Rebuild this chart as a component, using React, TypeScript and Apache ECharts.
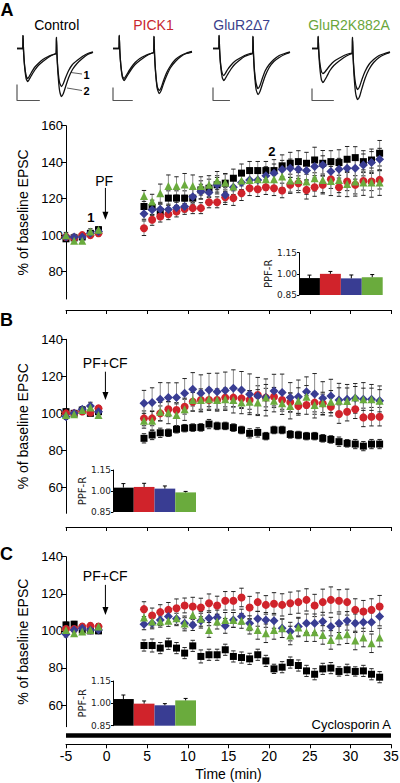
import React, { useEffect, useRef } from 'react';
import * as echarts from 'echarts';

// ---------------- DATA ----------------
const GROUPS = ['Control', 'PICK1', 'GluR2Δ7', 'GluR2K882A'];
const COLORS = ['#000000', '#d0232b', '#393d93', '#6aab3d'];
const TITLE_COLORS = ['#000000', '#c8262e', '#3b3f8c', '#6aa63a'];
const SYMBOLS = ['rect', 'circle', 'diamond', 'triangle'];
const SYMBOL_SIZES = [7, 8, 9, 8];

const TIME = [-5, -4, -3, -2, -1,
  4.6, 5.6, 6.6, 7.6, 8.6, 9.6, 10.6, 11.6, 12.6, 13.6,
  14.6, 15.6, 16.6, 17.6, 18.6, 19.6, 20.6, 21.6, 22.6, 23.6,
  24.6, 25.6, 26.6, 27.6, 28.6, 29.6, 30.6, 31.6, 32.6, 33.6];

const Y_TICKS_A = [80, 100, 120, 140, 160];
const Y_TICKS_BC = [60, 80, 100, 120, 140];
const PPF_TICKS = [0.85, 1.0, 1.15];

// Panel A (PF)
const A_CONTROL = [98, 98.5, 99, 101, 103, 115.7, 115.2, 113, 120.3, 120.3, 120.3, 120.3, 124.8, 125.7, 127.6, 128.5, 131.2, 134, 135.4, 135.4, 135.4, 135.4, 138, 139.4, 140.3, 139.4, 141.2, 139.4, 140.3, 139.8, 141.6, 142.5, 140.3, 141.2, 144.9];
const A_PICK1 = [99, 98.5, 100, 100, 101, 103.8, 108.4, 110.2, 111.5, 113, 114.4, 114.8, 114.8, 118, 118, 120.8, 120.3, 123, 125.7, 125.2, 126.3, 125.7, 124.5, 127.6, 128.5, 124.8, 126.3, 127.6, 130.6, 126.3, 129.4, 127.6, 129.7, 129.4, 130.3];
const A_DELTA7 = [99, 99, 99, 101, 102, 111.7, 113.9, 114.2, 114, 115, 115.7, 121, 123.9, 123.4, 127.6, 122, 126.3, 128.8, 130.3, 130.3, 132.5, 134, 136, 136.7, 136.1, 135.4, 137.6, 138.5, 134.9, 136.1, 136.7, 136.7, 138.5, 139.8, 141.6];
const A_K882A = [100, 97, 97, 102, 103, 121.5, 118.4, 123, 127, 127, 127.8, 127, 127, 127.6, 129.9, 128.8, 126.7, 129.9, 130.3, 130.6, 130.6, 130.6, 132.1, 129.9, 130.3, 129.4, 131.2, 130.3, 129.7, 130.3, 128.1, 129.4, 128.8, 128.8, 128.8];
const A_CONTROL_ERR = [1.5, 1.5, 1.5, 1.5, 1.5, 4, 4, 4, 4, 4, 4, 5, 5, 5, 5, 5, 5, 5, 5, 5, 5, 6, 6, 6, 6, 6, 7, 7, 6, 7, 7, 6, 6, 6, 7];
const A_PICK1_ERR = [1.5, 1.5, 1.5, 1.5, 1.5, 4, 3, 3, 3, 3, 3, 3, 3, 3, 3, 4, 4, 4, 4, 4, 4, 4, 4, 4, 4, 5, 5, 5, 5, 5, 5, 5, 5, 5, 5];
const A_DELTA7_ERR = [1.5, 1.5, 1.5, 1.5, 1.5, 3, 3, 3, 3, 3, 3, 4, 4, 4, 4, 4, 4, 4, 4, 5, 5, 5, 5, 5, 5, 5, 5, 5, 5, 6, 6, 6, 6, 6, 6];
const A_K882A_ERR = [1.5, 1.5, 1.5, 1.5, 1.5, 3, 4, 5, 6, 5, 6, 6, 5, 5, 5, 5, 6, 5, 5, 5, 6, 6, 6, 7, 7, 7, 7, 7, 8, 7, 7, 8, 7, 8, 7];

// Panel B (PF+CF)
const B_CONTROL = [100.9, 100, 101.8, 100, 100.9, 86.5, 88.3, 89.5, 89.5, 91.4, 92.0, 92.3, 92.4, 94.2, 93.2, 93.2, 92.3, 91.0, 89.2, 89.7, 87.7, 91.0, 91.0, 88.6, 88.3, 87.7, 87.7, 86.5, 85.9, 84.7, 83.8, 83.4, 82.3, 83.4, 83.4];
const B_PICK1 = [100, 100, 101, 100.5, 102.7, 97.3, 97.3, 100, 102.2, 101.8, 103.6, 106.3, 107.2, 107.2, 107.2, 108.5, 108.5, 108.1, 107.2, 109.9, 108.5, 109, 107.2, 106, 104, 104.5, 105.8, 105.4, 103.6, 99.6, 100.9, 102.2, 97.8, 98.2, 98.2];
const B_DELTA7 = [98.2, 100, 102.2, 104, 100.9, 105.4, 105.8, 107.6, 108.5, 108.5, 110.8, 113, 110.8, 112.6, 111.7, 112.3, 113.5, 112.6, 110.3, 109.4, 108.6, 112.1, 111.2, 108.6, 109, 111.7, 110.5, 108.1, 109.4, 107.2, 107.6, 108.1, 107.6, 107.6, 106.8];
const B_K882A = [99.1, 99.5, 101.8, 103.2, 99.1, 96, 96, 100.9, 100.4, 99.1, 102.2, 107.2, 107.2, 107.6, 107.2, 107.6, 107.2, 105.8, 106.3, 105.8, 108.6, 106.8, 105.4, 104, 106.8, 109, 104.5, 105.4, 106.3, 106.8, 106.7, 108.5, 107.6, 107.6, 106.8];
const B_CONTROL_ERR = [1.5, 1, 1.5, 1, 1.5, 2.5, 2.5, 2.5, 2, 2, 2, 2, 2, 2.5, 2, 2, 2, 2, 2.5, 2.5, 2, 2, 2, 2, 2, 2, 2, 2, 2, 2.5, 2, 2.5, 2.5, 2.5, 2.5];
const B_PICK1_ERR = [1.5, 1.5, 1.5, 1.5, 1.5, 4, 4, 4, 4, 4, 4, 5, 5, 5, 5, 5, 5, 5, 5, 5, 5, 5, 5, 5, 5, 5, 5, 5, 5, 5, 5, 5, 5, 5, 5];
const B_DELTA7_ERR = [1.5, 1.5, 1.5, 2, 1.5, 7, 8, 9, 8, 8, 8, 9, 10, 9, 10, 10, 10, 10, 11, 10, 10, 9, 10, 8, 9, 8, 11, 9, 9, 9, 8, 8, 9, 8, 8];
const B_K882A_ERR = [1.5, 1.5, 1.5, 1.5, 1.5, 4, 5, 5, 6, 6, 6, 6, 6, 6, 6, 6, 7, 6, 6, 7, 7, 6, 6, 7, 7, 6, 7, 6, 6, 7, 7, 6, 6, 6, 6];

// Panel C (PF+CF, Cyclosporin A)
const C_CONTROL = [103.2, 103.6, 100.5, 100, 100, 92.1, 92.1, 90.7, 93, 90.7, 88, 91.9, 86.2, 87.1, 87.1, 89.8, 86.2, 85.6, 84.9, 87.1, 83.8, 79.5, 80.4, 82.9, 81.3, 78.4, 76.6, 79.5, 79.9, 78.1, 79, 78.1, 78.4, 76.6, 75];
const C_PICK1 = [101, 101, 102.3, 102.7, 102.3, 111.7, 108.3, 110.1, 111.3, 112.2, 113.7, 113.1, 112.6, 114.9, 113.7, 116.2, 116.2, 118, 112.6, 115.5, 114, 114.6, 114, 114.9, 115.5, 116.7, 113.7, 115.5, 116.7, 116.2, 115.5, 111.3, 110.4, 111.3, 113.1];
const C_DELTA7 = [98.2, 100.5, 101.4, 100.5, 100.5, 103.6, 104.1, 105.9, 107.7, 106.5, 104.1, 103.2, 105.5, 106.8, 107.2, 102.7, 105.9, 107.7, 104.1, 106.5, 105.9, 105.4, 101.4, 99.6, 102.3, 104.1, 104.1, 105, 102.3, 104.1, 105.4, 104.1, 104.7, 104.7, 107.7];
const C_K882A = [100.5, 98.7, 99.6, 100.5, 102.3, 107.2, 105, 105, 105.4, 106.8, 104, 108.6, 106.5, 100.5, 105, 105.9, 105.9, 105.4, 102.3, 100.5, 98.7, 100.5, 101.4, 97.5, 101.8, 99.3, 99.3, 97.8, 95.1, 97.5, 98.2, 94.8, 96.4, 93.3, 96.4];
const C_CONTROL_ERR = [1.5, 1.5, 1.5, 1.5, 1.5, 3, 3.5, 3, 3, 3, 3, 3, 3.5, 3, 3, 3, 3, 3, 3, 3, 3, 2.5, 3, 3, 3, 3, 3, 3, 3, 2.5, 3, 2.5, 3, 3, 3];
const C_PICK1_ERR = [1.5, 1.5, 1.5, 1.5, 1.5, 4, 4, 4, 4, 5, 4, 5, 5, 5, 5, 5, 5, 5, 6, 5, 5, 6, 6, 6, 6, 6, 6, 7, 7, 6, 7, 6, 6, 6, 6];
const C_DELTA7_ERR = [1.5, 1.5, 1.5, 1.5, 1.5, 3, 3, 3, 3, 3, 3, 3, 4, 4, 4, 4, 4, 4, 4, 4, 4, 4, 5, 5, 5, 5, 5, 5, 5, 5, 5, 5, 5, 5, 5];
const C_K882A_ERR = [1.5, 1.5, 1.5, 1.5, 1.5, 3, 3, 3, 3, 4, 4, 4, 4, 4, 4, 4, 4, 4, 4, 5, 5, 5, 5, 5, 5, 5, 5, 5, 5, 5, 5, 5, 5, 5, 5];

// PPF-R insets
const PPF_A = [0.97, 1.0, 0.968, 0.976];
const PPF_A_ERR = [0.021, 0.017, 0.024, 0.019];
const PPF_B = [1.024, 1.029, 1.017, 0.99];
const PPF_B_ERR = [0.029, 0.026, 0.019, 0.007];
const PPF_C = [1.029, 0.998, 0.987, 1.02];
const PPF_C_ERR = [0.027, 0.018, 0.011, 0.013];

// Arrow annotations: [time, start value, tip value]
const ARROW_A = [-0.15, 125.9, 108.4];
const ARROW_B = [-0.15, 122.5, 107.2];
const ARROW_C = [-0.15, 124.8, 108.6];

// EPSC example traces (time in % of sweep, amplitude in arbitrary units)
const TRACE_T = [0, 7.5, 7.9, 8.6, 10, 12, 14, 16, 19, 23, 28, 34, 41, 48, 51.5, 51.9, 52.6, 54, 56, 58.5, 61, 64, 68, 73, 79, 86, 93, 100];
const CONTROL_1 = [0, 0, 13, -2, -17, -27, -30, -28, -24, -19, -15, -11, -8, -6, -5, 11, -6, -22, -34, -38, -35, -29, -22, -16, -12, -8, -5, -3.5];
const CONTROL_2 = [0, 0, 13, -2, -18, -30, -33, -31, -27, -22, -17, -13, -9, -6, -5, 11, -6, -26, -42, -48, -45, -38, -29, -21, -15, -10, -6, -4];
const PICK1_1 = [0, 0, 13, -2, -17, -28, -30, -28, -24, -19, -14, -10, -7, -5, -4, 12, -6, -24, -38, -42, -39, -32, -24, -17, -11, -7, -4.5, -3];
const PICK1_2 = [0, 0, 13, -2, -18, -29, -32, -30, -26, -21, -16, -12, -8, -5, -4, 12, -6, -25, -40, -45, -42, -35, -27, -19, -13, -8, -5, -3.5];
const DELTA7_1 = [0, 0, 13, -2, -16, -25, -27, -25, -21, -17, -13, -10, -7, -5, -4.5, 12, -6, -23, -35, -40, -37, -30, -22, -16, -11, -7, -5, -3.5];
const DELTA7_2 = [0, 0, 13, -2, -18, -29, -32, -30, -26, -21, -16, -12, -8, -6, -5, 12, -6, -26, -41, -46, -43, -36, -27, -19, -13, -9, -6, -4];
const K882A_1 = [0, 0, 12, -2, -14, -23, -25, -24, -21, -17, -13, -10, -7, -5, -4.5, 11, -6, -23, -36, -41, -38, -31, -23, -16, -11, -7, -5, -3.5];
const K882A_2 = [0, 0, 12, -2, -19, -31, -34, -32, -28, -22, -17, -13, -9, -6, -5, 11, -6, -28, -45, -51, -48, -40, -30, -21, -14, -9, -6, -4];
const SCALE_H = [16, 13, 13, 12];
const SCALE_W = [30, 25, 22, 28];
const SCALE_BASE = -52;

// ---------------- LAYOUT ----------------
const FONT = "'Liberation Sans', Arial, Helvetica, sans-serif";
const INSET_FONT = "'DejaVu Sans', Verdana, sans-serif";

const MAIN = [
  { top: 125.7, height: 173.3, ymin: 65, ymax: 160, ticks: Y_TICKS_A, xOffset: 11, labels: false },
  { top: 339.3, height: 174, ymin: 46, ymax: 140, ticks: Y_TICKS_BC, xOffset: 13.7, labels: false },
  { top: 556.7, height: 170, ymin: 48.3, ymax: 140, ticks: Y_TICKS_BC, xOffset: 17.6, labels: true },
];
const INSETS = [
  { left: 299, top: 252.7, width: 83.7, height: 42.3 },
  { left: 113, top: 470, width: 83, height: 42 },
  { left: 113, top: 681, width: 83, height: 44.7 },
];
const TRACE_GRIDS = [
  { left: 17, width: 76 },
  { left: 113, width: 79 },
  { left: 213, width: 77 },
  { left: 312, width: 78 },
];

const PANEL_VALUES = [
  [A_CONTROL, A_PICK1, A_DELTA7, A_K882A],
  [B_CONTROL, B_PICK1, B_DELTA7, B_K882A],
  [C_CONTROL, C_PICK1, C_DELTA7, C_K882A],
];
const PANEL_ERRS = [
  [A_CONTROL_ERR, A_PICK1_ERR, A_DELTA7_ERR, A_K882A_ERR],
  [B_CONTROL_ERR, B_PICK1_ERR, B_DELTA7_ERR, B_K882A_ERR],
  [C_CONTROL_ERR, C_PICK1_ERR, C_DELTA7_ERR, C_K882A_ERR],
];
const PANEL_ARROWS = [ARROW_A, ARROW_B, ARROW_C];
const PPF = [PPF_A, PPF_B, PPF_C];
const PPF_ERR = [PPF_A_ERR, PPF_B_ERR, PPF_C_ERR];
const TRACES = [
  [CONTROL_1, CONTROL_2],
  [PICK1_1, PICK1_2],
  [DELTA7_1, DELTA7_2],
  [K882A_1, K882A_2],
];

function buildOption() {
  const grid: any[] = [];
  const xAxis: any[] = [];
  const yAxis: any[] = [];
  const series: any[] = [];

  // main panels
  MAIN.forEach((m, p) => {
    grid.push({ left: 66, right: 9, top: m.top, height: m.height, containLabel: false, outerBoundsMode: 'none' });
    xAxis.push({
      gridIndex: p, type: 'value', min: -5, max: 35, interval: 5, position: 'bottom', offset: m.xOffset,
      axisLine: { show: true, onZero: false, lineStyle: { color: '#000', width: 1 } },
      axisTick: { show: true, length: 4, lineStyle: { color: '#000', width: 1 } },
      axisLabel: { show: m.labels, fontSize: 14, color: '#000', margin: 5, fontFamily: FONT },
      splitLine: { show: false },
      name: m.labels ? 'Time (min)' : '', nameLocation: 'middle', nameGap: 23,
      nameTextStyle: { fontSize: 14, color: '#000', fontFamily: FONT },
    });
    yAxis.push({
      gridIndex: p, type: 'value', min: m.ymin, max: m.ymax, position: 'left',
      axisLine: { show: true, onZero: false, lineStyle: { color: '#000', width: 1 } },
      axisTick: { show: true, length: 5, customValues: m.ticks, lineStyle: { color: '#000' } },
      axisLabel: { show: true, customValues: m.ticks, fontSize: 13, color: '#000', margin: 3, fontFamily: FONT },
      splitLine: { show: false },
      name: '% of baseline EPSC', nameLocation: 'middle', nameGap: 33, nameRotate: 90,
      nameTextStyle: { fontSize: 14, color: '#000', fontFamily: FONT },
    });
  });

  // insets
  INSETS.forEach((g, i) => {
    grid.push({ left: g.left, top: g.top, width: g.width, height: g.height, containLabel: false, outerBoundsMode: 'none' });
    xAxis.push({ gridIndex: 3 + i, type: 'category', data: GROUPS, show: false, boundaryGap: true });
    yAxis.push({
      gridIndex: 3 + i, type: 'value', min: 0.85, max: 1.15, position: 'left',
      axisLine: { show: true, onZero: false, lineStyle: { color: '#000', width: 1 } },
      axisTick: { show: true, length: 2, customValues: PPF_TICKS, lineStyle: { color: '#000' } },
      axisLabel: {
        show: true, customValues: PPF_TICKS, fontSize: 9, color: '#222', margin: 2, fontFamily: INSET_FONT,
        formatter: (v: number) => v.toFixed(2),
      },
      splitLine: { show: false },
      name: 'PPF-R', nameLocation: 'middle', nameGap: 26, nameRotate: 90,
      nameTextStyle: { fontSize: 10, color: '#222', fontFamily: INSET_FONT },
    });
  });

  // trace grids
  TRACE_GRIDS.forEach((g, i) => {
    grid.push({ left: g.left, width: g.width, top: 33.5, height: 70, containLabel: false, outerBoundsMode: 'none' });
    xAxis.push({ gridIndex: 6 + i, type: 'value', min: 0, max: 100, show: false });
    yAxis.push({ gridIndex: 6 + i, type: 'value', min: -55, max: 15, show: false });
  });

  // main panel series
  PANEL_VALUES.forEach((groupVals, p) => {
    groupVals.forEach((vals, g) => {
      const errs = PANEL_ERRS[p][g];
      series.push({
        type: 'custom', coordinateSystem: 'cartesian2d', xAxisIndex: p, yAxisIndex: p, z: 2,
        silent: true, clip: false,
        encode: { x: 0, y: [1, 2] },
        data: TIME.map((t, i) => [t, vals[i] - errs[i], vals[i] + errs[i]]),
        renderItem: (params: any, api: any) => {
          const x = api.value(0);
          const lo = api.coord([x, api.value(1)]);
          const hi = api.coord([x, api.value(2)]);
          const w = 2.2;
          return {
            type: 'group',
            children: [
              { type: 'line', shape: { x1: lo[0], y1: lo[1], x2: hi[0], y2: hi[1] }, style: { stroke: '#8c8c8c', lineWidth: 1 } },
              { type: 'line', shape: { x1: lo[0] - w, y1: lo[1], x2: lo[0] + w, y2: lo[1] }, style: { stroke: '#222', lineWidth: 1 } },
              { type: 'line', shape: { x1: hi[0] - w, y1: hi[1], x2: hi[0] + w, y2: hi[1] }, style: { stroke: '#222', lineWidth: 1 } },
            ],
          };
        },
      });
    });
    groupVals.forEach((vals, g) => {
      series.push({
        type: 'scatter', xAxisIndex: p, yAxisIndex: p, z: 3 + g, clip: false, silent: true,
        symbol: SYMBOLS[g], symbolSize: SYMBOL_SIZES[g],
        itemStyle: { color: COLORS[g], opacity: 1 },
        data: TIME.map((t, i) => [t, vals[i]]),
      });
    });
    // stimulation arrow
    const a = PANEL_ARROWS[p];
    series.push({
      type: 'custom', coordinateSystem: 'cartesian2d', xAxisIndex: p, yAxisIndex: p, z: 10, silent: true, clip: false,
      encode: { x: 0, y: [1, 2] },
      data: [a],
      renderItem: (params: any, api: any) => {
        const x = api.value(0);
        const s = api.coord([x, api.value(1)]);
        const e = api.coord([x, api.value(2)]);
        const hl = 8, hw = 3;
        return {
          type: 'group',
          children: [
            { type: 'line', shape: { x1: s[0], y1: s[1], x2: e[0], y2: e[1] - hl + 1 }, style: { stroke: '#000', lineWidth: 1 } },
            { type: 'polygon', shape: { points: [[e[0], e[1]], [e[0] - hw, e[1] - hl], [e[0] + hw, e[1] - hl]] }, style: { fill: '#000' } },
          ],
        };
      },
    });
  });

  // inset series
  PPF.forEach((vals, i) => {
    series.push({
      type: 'bar', xAxisIndex: 3 + i, yAxisIndex: 3 + i, barCategoryGap: '0%', silent: true, z: 5,
      data: vals.map((v, g) => ({ value: v, itemStyle: { color: COLORS[g] } })),
    });
    series.push({
      type: 'custom', coordinateSystem: 'cartesian2d', xAxisIndex: 3 + i, yAxisIndex: 3 + i, z: 6, silent: true,
      encode: { x: 0, y: [1, 2] },
      data: vals.map((v, g) => [g, v, v + PPF_ERR[i][g]]),
      renderItem: (params: any, api: any) => {
        const x = api.value(0);
        const lo = api.coord([x, api.value(1)]);
        const hi = api.coord([x, api.value(2)]);
        const w = 2;
        return {
          type: 'group',
          children: [
            { type: 'line', shape: { x1: lo[0], y1: lo[1], x2: hi[0], y2: hi[1] }, style: { stroke: '#000', lineWidth: 1 } },
            { type: 'line', shape: { x1: hi[0] - w, y1: hi[1], x2: hi[0] + w, y2: hi[1] }, style: { stroke: '#000', lineWidth: 1 } },
          ],
        };
      },
    });
  });

  // traces
  TRACES.forEach((pair, i) => {
    pair.forEach((tr) => {
      series.push({
        type: 'line', xAxisIndex: 6 + i, yAxisIndex: 6 + i, showSymbol: false, silent: true, smooth: 0.2,
        lineStyle: { color: '#111', width: 1.3 },
        data: TRACE_T.map((t, k) => [t, tr[k]]),
      });
    });
    series.push({
      type: 'line', xAxisIndex: 6 + i, yAxisIndex: 6 + i, showSymbol: false, silent: true,
      lineStyle: { color: '#555', width: 1.2 },
      data: [[0, SCALE_BASE + SCALE_H[i]], [0, SCALE_BASE], [SCALE_W[i], SCALE_BASE]],
    });
  });

  const txt = (text: string, x: number, y: number, size: number, opts: any = {}) => ({
    type: 'text', x, y, silent: true, rotation: opts.rotation || 0,
    style: {
      text, fill: opts.color || '#000', fontSize: size, fontFamily: FONT, fontWeight: opts.bold ? 'bold' : 'normal',
      align: opts.align || 'center', verticalAlign: 'middle',
      textAlign: opts.align || 'center', textVerticalAlign: 'middle',
    },
  });

  const TITLE_X = [56.7, 153.5, 241.7, 349];
  const graphic: any[] = [
    txt('A', 7, 10, 18, { bold: true }),
    txt('B', 6.5, 320, 18, { bold: true }),
    txt('C', 6.5, 554, 18, { bold: true }),
    ...GROUPS.map((g, i) => txt(g, TITLE_X[i], 25, 14, { color: TITLE_COLORS[i] })),
    txt('1', 86.5, 74.5, 11, { bold: true }),
    txt('2', 86.5, 90.5, 11, { bold: true }),
    { type: 'line', silent: true, shape: { x1: 71, y1: 72.5, x2: 82, y2: 74 }, style: { stroke: '#333', lineWidth: 0.8 } },
    { type: 'line', silent: true, shape: { x1: 67, y1: 88, x2: 82, y2: 90.5 }, style: { stroke: '#333', lineWidth: 0.8 } },
    txt('PF', 104.2, 180.5, 14),
    txt('1', 90.8, 217.2, 13, { bold: true }),
    txt('2', 271.8, 151.7, 13, { bold: true }),
    txt('PF+CF', 105.2, 363.3, 14),
    txt('PF+CF', 105.2, 576, 14),
    { type: 'rect', silent: true, shape: { x: 66, y: 733.3, width: 325, height: 4.5 }, style: { fill: '#000' } },
    txt('Cyclosporin A', 391, 724.3, 13, { align: 'right' }),
  ];

  return {
    animation: false,
    backgroundColor: '#ffffff',
    textStyle: { fontFamily: FONT },
    grid, xAxis, yAxis, series, graphic,
  };
}

export default function App() {
  const ref = useRef<HTMLDivElement>(null);
  useEffect(() => {
    document.body.style.margin = '0';
    if (!ref.current) return;
    const chart = echarts.init(ref.current, null, { renderer: 'svg' });
    chart.setOption(buildOption() as any);
    return () => chart.dispose();
  }, []);
  return <div ref={ref} style={{ width: 400, height: 783 }} />;
}
